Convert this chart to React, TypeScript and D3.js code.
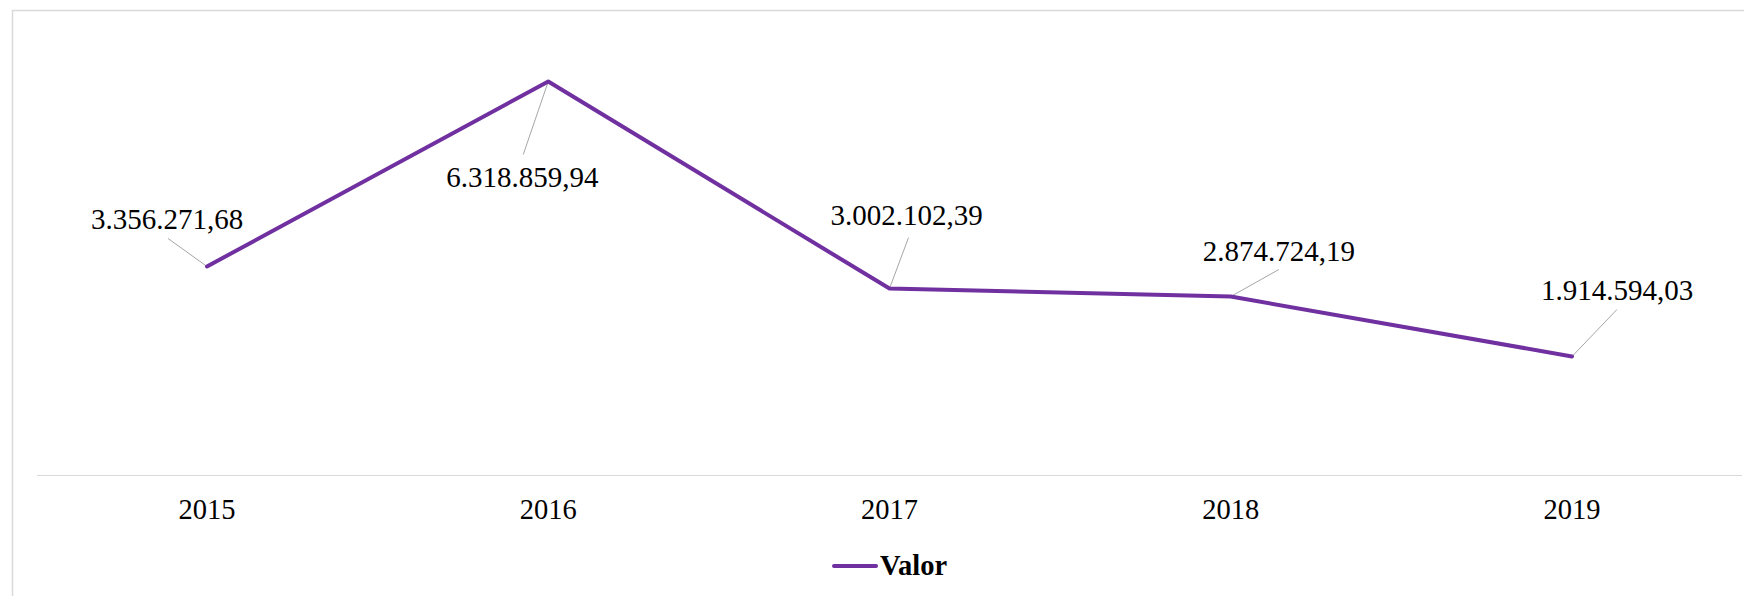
import React from "react";
import * as d3 from "d3";

const years = ["2015", "2016", "2017", "2018", "2019"];
const values = [3356271.68, 6318859.94, 3002102.39, 2874724.19, 1914594.03];
const labels = ["3.356.271,68", "6.318.859,94", "3.002.102,39", "2.874.724,19", "1.914.594,03"];
const seriesName = "Valor";

// label placement (text center / baseline offset, leader end offset) relative to point
const labelOffsets = [
  { dx: -40, dy: -37, lx: -39, ly: -28 },
  { dx: -26, dy: 105, lx: -25, ly: 73 },
  { dx: 17, dy: -64, lx: 19, ly: -51 },
  { dx: 48, dy: -36, lx: 48, ly: -27 },
  { dx: 45, dy: -56, lx: 45, ly: -47 },
];

const W = 1744;
const H = 596;
const purple = "#7030a0";
const font = "'Liberation Serif', 'Times New Roman', serif";

export default function App() {
  const x = d3.scalePoint<string>().domain(years).range([207, 1572]);
  const y = d3.scaleLinear().domain([0, 7000000]).range([476, 39]);
  const line = d3
    .line<number>()
    .x((_, i) => x(years[i]) as number)
    .y((d) => y(d));

  return (
    <svg
      width={W}
      height={H}
      style={{ position: "absolute", left: 0, top: 0, display: "block", background: "#fff" }}
    >
      <rect x={12.5} y={10.5} width={W + 20} height={H + 20} fill="#fff" stroke="#d9d9d9" strokeWidth={1.5} />
      <line x1={37} x2={1742} y1={475.5} y2={475.5} stroke="#d9d9d9" strokeWidth={1.2} />
      {years.map((yr) => (
        <text
          key={yr}
          x={x(yr)}
          y={519}
          textAnchor="middle"
          fontFamily={font}
          fontSize={28.5}
          fill="#000"
        >
          {yr}
        </text>
      ))}
      {values.map((v, i) => {
        const px = x(years[i]) as number;
        const py = y(v);
        const o = labelOffsets[i];
        return (
          <line
            key={"l" + i}
            x1={px}
            y1={py}
            x2={px + o.lx}
            y2={py + o.ly}
            stroke="#a6a6a6"
            strokeWidth={1}
          />
        );
      })}
      <path d={line(values) || ""} fill="none" stroke={purple} strokeWidth={4} strokeLinejoin="round" strokeLinecap="round" />
      {values.map((v, i) => {
        const px = x(years[i]) as number;
        const py = y(v);
        const o = labelOffsets[i];
        return (
          <text
            key={"t" + i}
            x={px + o.dx}
            y={py + o.dy}
            textAnchor="middle"
            fontFamily={font}
            fontSize={29}
            fill="#000"
          >
            {labels[i]}
          </text>
        );
      })}
      <line x1={834} x2={876} y1={566} y2={566} stroke={purple} strokeWidth={4} strokeLinecap="round" />
      <text x={880} y={575} fontFamily={font} fontSize={28.5} fontWeight="bold" fill="#000">
        {seriesName}
      </text>
    </svg>
  );
}
